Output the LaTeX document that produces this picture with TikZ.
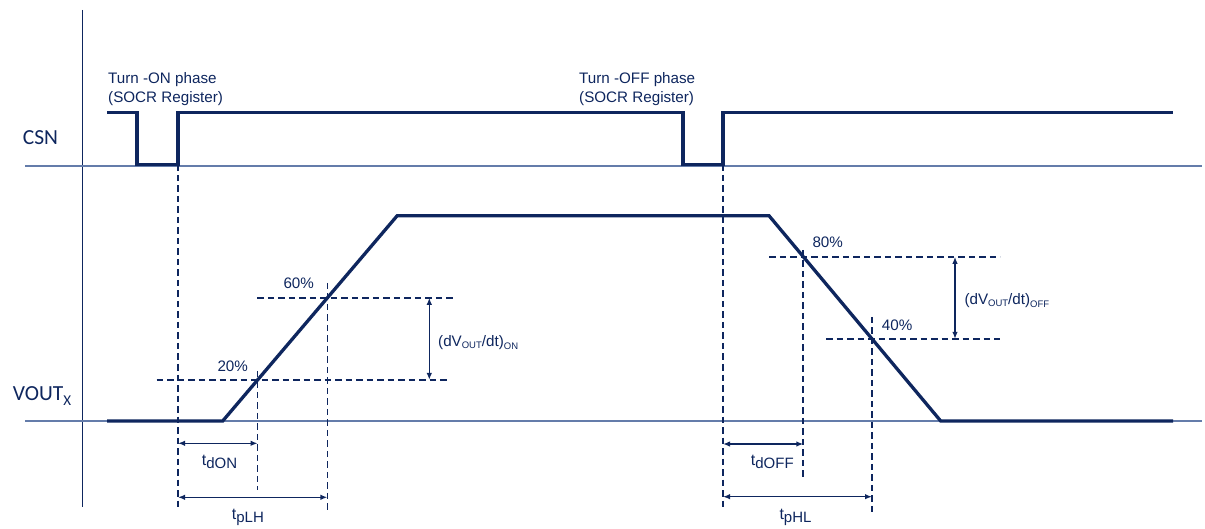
\documentclass[tikz,border=0pt]{standalone}
\usepackage{fontspec}
\setmainfont{Liberation Sans}
\newfontfamily\csnfont{Carlito}
\usetikzlibrary{arrows.meta, calc}
\definecolor{stnavy}{RGB}{14,38,94}
\definecolor{stgrey}{RGB}{100,124,170}
\newcommand{\tsub}[1]{\raisebox{-3.5pt}{\fontsize{15}{15}\selectfont #1}}
\newcommand{\vsub}[2]{\raisebox{-#1}{\fontsize{9.5}{9.5}\selectfont #2}}

\begin{document}
\begin{tikzpicture}[x=1pt, y=-1pt,
    sig/.style={stnavy, line width=3.3pt},
    ref/.style={stgrey, line width=1.5pt},
    guide/.style={stnavy, line width=1.7pt, dash pattern=on 6.5pt off 4pt},
    dim/.style={stnavy, line width=1.5pt, {Latex[length=7pt,width=5.5pt]}-{Latex[length=7pt,width=5.5pt]}},
    lbl/.style={text=stnavy, inner sep=0pt, font=\fontsize{15.2}{18.6}\selectfont},
    tlbl/.style={lbl, font=\fontsize{16}{16}\selectfont},
    sig name/.style={text=stnavy, inner sep=0pt, font=\csnfont\fontsize{21.5}{21.5}\selectfont}]
    \useasboundingbox (0,0) rectangle (1205,529);

    % axes
    \draw[stnavy, line width=1.4pt] (82.3,10) -- (82.3,507);
    \draw[ref] (25,166) -- (1202,166);
    \draw[ref] (25,421) -- (1202,421);

    % signal names
    \node[sig name, anchor=base west] (csn) at (22.7,144.3) {CSN};
    \node[sig name, anchor=base west] (vout) at (12.7,400) {VOUT\raisebox{-5pt}{\fontsize{15}{15}\selectfont X}};

    % CSN with the two SOCR accesses
    \coordinate (edgeon) at (178,164.5);
    \coordinate (edgeoff) at (723,164.5);
    \draw[sig] (107,112.7) -- (137,112.7) -- (137,164.5) -- (edgeon) -- (178,112.7)
        -- (683,112.7) -- (683,164.5) -- (edgeoff) -- (723,112.7) -- (1173,112.7);
    \node[lbl, anchor=north west, align=left] (phon) at (108,72.3) {Turn -ON phase\\(SOCR Register)};
    \node[lbl, anchor=north west, align=left] (phoff) at (579,72.3) {Turn -OFF phase\\(SOCR Register)};

    % VOUT ramps
    \coordinate (on0) at (222.7,421);
    \coordinate (on1) at (397.2,215.7);
    \coordinate (off0) at (769,215.7);
    \coordinate (off1) at (940.7,421);
    \draw[sig] (107,421) -- (on0) -- (on1) -- (off0) -- (off1) -- (1173,421);

    % level crossings
    \coordinate (p20) at ($(on0)!0.2!(on1)$);
    \coordinate (p60) at ($(on0)!0.6!(on1)$);
    \coordinate (p80) at ($(off1)!0.8!(off0)$);
    \coordinate (p40) at ($(off1)!0.4!(off0)$);

    % dashed guides, turn-on
    \draw[guide] (edgeon) -- (178,507);
    \draw[guide] ($(p20)+(-101,0)$) -- ($(p20)+(191,0)$);
    \draw[guide] ($(p60)+(-70,0)$) -- ($(p60)+(127,0)$);
    \draw[guide] ($(p20)+(0,-9)$) -- ($(p20)+(0,110)$);
    \draw[guide] ($(p60)+(0,-15)$) -- ($(p60)+(0,214)$);
    % dashed guides, turn-off
    \draw[guide] (edgeoff) -- (723,507);
    \draw[guide] ($(p80)+(-34,0)$) -- ($(p80)+(197,0)$);
    \draw[guide] ($(p40)+(-46,0)$) -- ($(p40)+(128,0)$);
    \draw[guide] ($(p80)+(0,-7)$) -- ($(p80)+(0,223)$);
    \draw[guide] ($(p40)+(0,-22)$) -- ($(p40)+(0,174)$);

    \node[lbl, anchor=base west] (l20) at (217.3,371) {20\%};
    \node[lbl, anchor=base west] (l60) at (283.3,288.5) {60\%};
    \node[lbl, anchor=base west] (l80) at (812.3,247.3) {80\%};
    \node[lbl, anchor=base west] (l40) at (881.7,330.7) {40\%};

    % slew rate arrows
    \coordinate (sron1) at (429.3,297.8);
    \coordinate (sron0) at (429.3,379.9);
    \draw[dim] (sron1) -- (sron0);
    \node[lbl, anchor=base west] (sron) at (438,346) {(dV\vsub{2pt}{OUT}/dt)\vsub{3.5pt}{ON}};
    \coordinate (sroff1) at (955,256.8);
    \coordinate (sroff0) at (955,338.9);
    \draw[dim] (sroff1) -- (sroff0);
    \node[lbl, anchor=base west] (sroff) at (964.3,304.3) {(dV\vsub{2pt}{OUT}/dt)\vsub{3.5pt}{OFF}};

    % delay and propagation times
    \coordinate (don0) at (178,443.3);
    \coordinate (don1) at (257.6,443.3);
    \coordinate (plh0) at (178,497.3);
    \coordinate (plh1) at (327.4,497.3);
    \coordinate (doff0) at (723,444);
    \coordinate (doff1) at (803.3,444);
    \coordinate (phl0) at (723,496.7);
    \coordinate (phl1) at (872,496.7);
    \draw[dim] (don0) -- (don1);
    \draw[dim] (plh0) -- (plh1);
    \draw[dim] (doff0) -- (doff1);
    \draw[dim] (phl0) -- (phl1);
    \node[tlbl, anchor=base west] (tdon) at (201.7,465) {t\tsub{dON}};
    \node[tlbl, anchor=base west] (tplh) at (231.7,519) {t\tsub{pLH}};
    \node[tlbl, anchor=base west] (tdoff) at (750.7,465) {t\tsub{dOFF}};
    \node[tlbl, anchor=base west] (tphl) at (779.3,519) {t\tsub{pHL}};
\end{tikzpicture}
\end{document}
